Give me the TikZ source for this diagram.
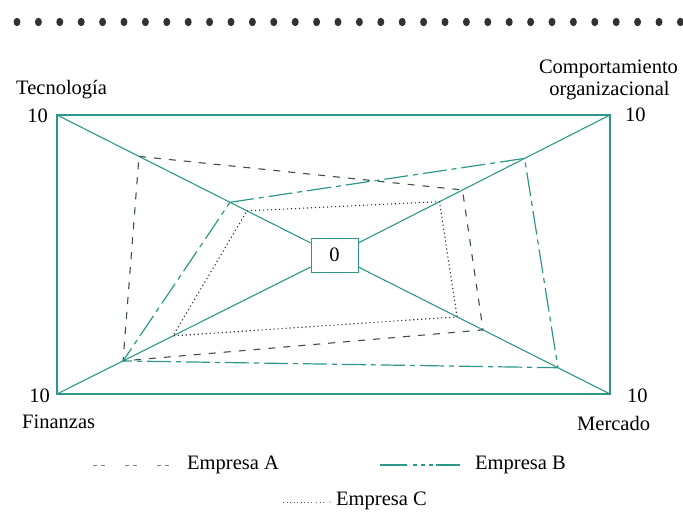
\documentclass[tikz,border=0pt]{standalone}
\usepackage{fontspec}
\setmainfont{LiberationSerif-Regular.ttf}
\usetikzlibrary{calc}
\definecolor{tealc}{RGB}{45,152,138}
\definecolor{darkc}{RGB}{60,80,78}
\definecolor{dotc}{RGB}{50,50,50}
\tikzset{
  axisline/.style={draw=tealc, line width=1.1pt},
  lblA/.style={font=\fontsize{20.5}{22}\selectfont, inner sep=0pt},
  empA/.style={draw=darkc, line width=1.1pt, dash pattern=on 7pt off 8pt},
  empB/.style={draw=tealc, line width=1.2pt, dash pattern=on 24pt off 5pt on 5pt off 5pt},
  empC/.style={draw=dotc, line width=1.1pt, dash pattern=on 1.2pt off 2.8pt},
  zerobox/.style={draw=tealc, line width=0.8pt, fill=white, minimum width=47pt, minimum height=34pt, inner sep=0pt, font=\fontsize{20.5}{22}\selectfont},
  topdot/.style={fill=dotc, draw=none}
}
\begin{document}
\begin{tikzpicture}[x=1pt,y=-1pt]
\useasboundingbox (0,0) rectangle (683,513);
% top dotted separator
\foreach \i in {0,...,31}{
  \fill[topdot] ({17+21.4*\i},22) ellipse (3.5pt and 4.2pt);
}
% corners
\coordinate (TL) at (57,115);
\coordinate (TR) at (610,115);
\coordinate (BR) at (610,394);
\coordinate (BL) at (57,394);
\coordinate (O) at (334.5,255);
\draw[axisline] (TL) -- (TR) -- (BR) -- (BL) -- cycle;
\node[zerobox] (zero) at (O) {0};
\draw[axisline] (TL) -- (zero);
\draw[axisline] (TR) -- (zero);
\draw[axisline] (BR) -- (zero);
\draw[axisline] (BL) -- (zero);
% data points
\coordinate (aT) at ($(O)!0.7045!(TL)$);
\coordinate (aC) at ($(O)!0.4645!(TR)$);
\coordinate (aM) at ($(O)!0.539!(BR)$);
\coordinate (aF) at ($(O)!0.762!(BL)$);
\coordinate (bT) at ($(O)!0.3766!(TL)$);
\coordinate (bC) at ($(O)!0.690!(TR)$);
\coordinate (bM) at ($(O)!0.811!(BR)$);
\coordinate (bF) at ($(O)!0.762!(BL)$);
\coordinate (cT) at ($(O)!0.3153!(TL)$);
\coordinate (cC) at ($(O)!0.381!(TR)$);
\coordinate (cM) at ($(O)!0.445!(BR)$);
\coordinate (cF) at ($(O)!0.582!(BL)$);
\draw[empA] (aT) -- (aC) -- (aM) -- (aF) -- cycle;
\draw[empB] (bT) -- (bC) -- (bM) -- (bF) -- cycle;
\draw[empC] (cT) -- (cC) -- (cM) -- (cF) -- cycle;
% labels
\node[lblA, anchor=base west] (tec) at (16,95) {Tecnología};
\node[lblA, anchor=base east] (tec10) at (48,123) {10};
\node[lblA, anchor=base, align=center] (co1) at (608.5,74) {Comportamiento};
\node[lblA, anchor=base] (co2) at (609.5,96) {organizacional};
\node[lblA, anchor=base west] (co10) at (625,122) {10};
\node[lblA, anchor=base east] (fin10) at (50,402) {10};
\node[lblA, anchor=base west] (fin) at (22,428) {Finanzas};
\node[lblA, anchor=base west] (mer10) at (627,402) {10};
\node[lblA, anchor=base west] (mer) at (577,430) {Mercado};
% legend
\coordinate (lA1) at (93,465);
\coordinate (lA2) at (171,465);
\draw[draw=darkc!70, line width=0.9pt, dash pattern=on 4pt off 4pt on 4pt off 20pt] (lA1) -- (lA2);
\node[lblA, anchor=base west] (legA) at (187,469) {Empresa A};
\coordinate (lB1) at (380,465);
\coordinate (lB2) at (460,465);
\draw[draw=tealc, line width=1.1pt, dash pattern=on 27pt off 6pt on 4pt off 4pt on 4pt off 4pt on 4pt off 3pt on 40pt] (lB1) -- (lB2);
\node[lblA, anchor=base west] (legB) at (475,469) {Empresa B};
\coordinate (lC1) at (283,502);
\coordinate (lC2) at (312,502);
\coordinate (lC3) at (316,502);
\coordinate (lC4) at (326,502);
\coordinate (lC5) at (330,502);
\draw[draw=dotc!80, line width=0.9pt, dash pattern=on 1pt off 2.5pt] (lC1) -- (lC2);
\draw[draw=dotc!80, line width=0.9pt, dash pattern=on 1pt off 2.5pt] (lC3) -- (lC4);
\fill[dotc!80] (lC5) circle (0.6pt);
\node[lblA, anchor=base west] (legC) at (336,505) {Empresa C};
\end{tikzpicture}
\end{document}
